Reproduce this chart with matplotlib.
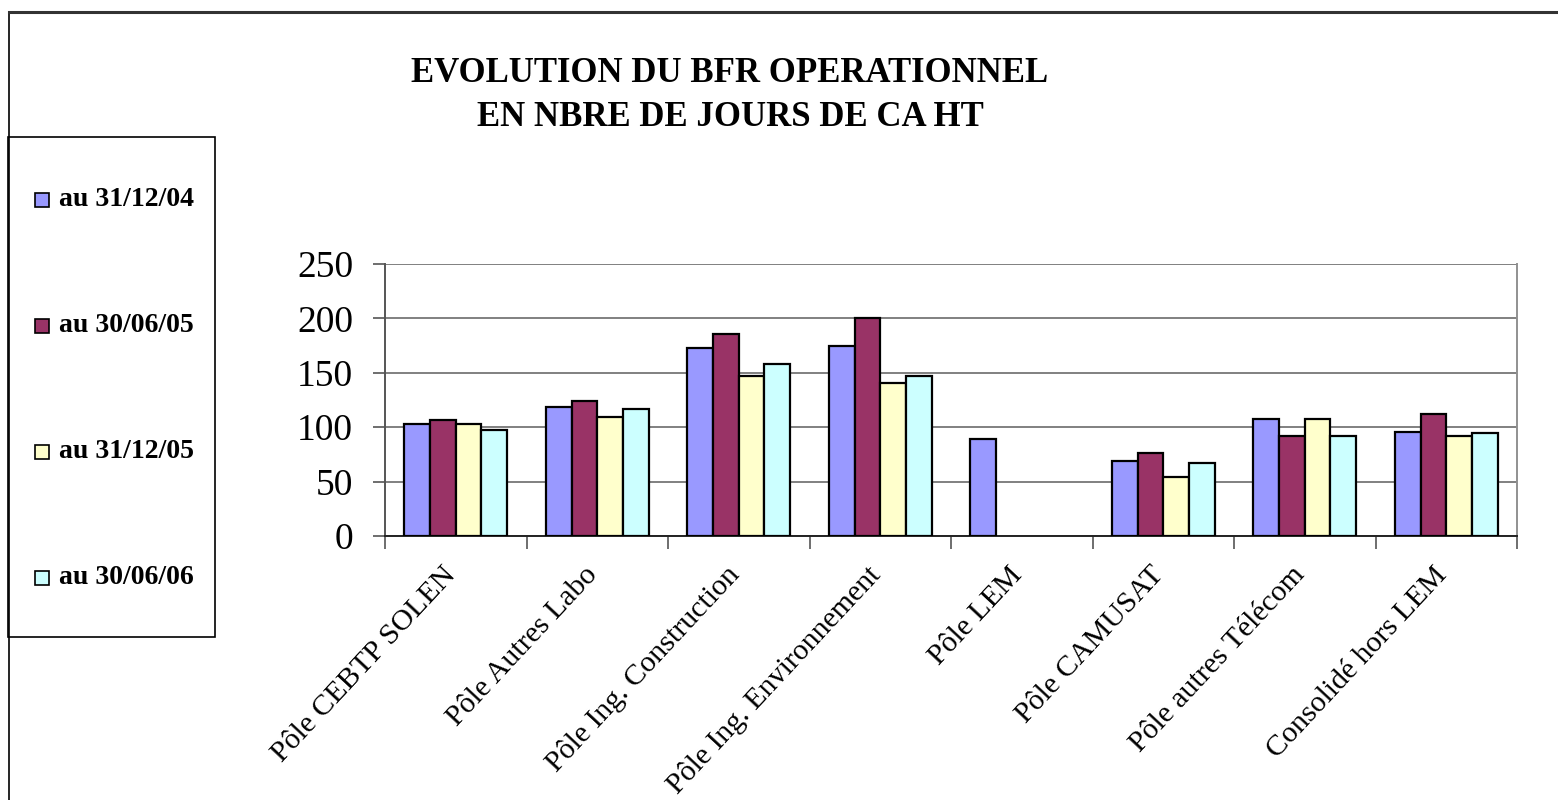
import matplotlib
matplotlib.use("Agg")
import matplotlib.pyplot as plt
import matplotlib.transforms as mtransforms
import numpy as np
from matplotlib.patches import Rectangle
from matplotlib.lines import Line2D

categories = ["Pôle CEBTP SOLEN", "Pôle Autres Labo", "Pôle Ing. Construction",
              "Pôle Ing. Environnement", "Pôle LEM", "Pôle CAMUSAT",
              "Pôle autres Télécom", "Consolidé hors LEM"]
series_names = ["au 31/12/04", "au 30/06/05", "au 31/12/05", "au 30/06/06"]
s_311204 = [103, 118.5, 173, 174.5, 89.5, 69, 107.5, 96]
s_300605 = [107, 124.5, 186, 200, 0, 76, 91.5, 112.5]
s_311205 = [102.5, 109, 147, 141, 0, 54.5, 107.5, 91.5]
s_300606 = [97.5, 116.5, 158.5, 147, 0, 67.5, 91.5, 94.5]
series = [s_311204, s_300605, s_311205, s_300606]
colors = ["#9999FF", "#993366", "#FFFFCC", "#CCFFFF"]
yticks = [0, 50, 100, 150, 200, 250]

serif = ["Liberation Serif", "DejaVu Serif"]
plt.rcParams["font.family"] = serif

W, H = 1558, 800
fig = plt.figure(figsize=(W / 100, H / 100), dpi=100)

ax = fig.add_axes([385 / W, 1 - 536 / H, (1517 - 385) / W, (536 - 264) / H])

n = len(categories)
x = np.arange(n)
bw = 1 / 5.5
for i, (vals, c) in enumerate(zip(series, colors)):
    offs = (i - 1.5) * bw
    xs = [xi + offs for xi, v in zip(x, vals) if v > 0]
    vs = [v for v in vals if v > 0]
    ax.bar(xs, vs, width=bw, color=c, edgecolor="black", linewidth=1.6,
           zorder=3, label=series_names[i])

ax.set_xlim(-0.5, n - 0.5)
ax.set_ylim(0, 250)
ax.set_yticks(yticks)
ax.set_yticklabels([str(t) for t in yticks], fontsize=27)
ax.tick_params(axis="y", length=9, width=1.2, color="#555555", pad=14, direction="out")
ax.grid(axis="y", color="#808080", linewidth=1.4, zorder=0)

ax.set_xticks(x)
ax.set_xticklabels(categories, fontsize=21.5, rotation=47, ha="right",
                   rotation_mode="anchor", va="center")
ax.tick_params(axis="x", which="major", length=0, pad=25)
shift = mtransforms.ScaledTranslation(-4 / 100, 0, fig.dpi_scale_trans)
for lab in ax.get_xticklabels():
    lab.set_transform(lab.get_transform() + shift)
ax.set_xticks(np.arange(-0.5, n, 1.0), minor=True)
ax.tick_params(axis="x", which="minor", length=9, width=1.2, color="#555555")

ax.spines["top"].set_visible(False)
ax.spines["right"].set_color("#909090")
ax.spines["right"].set_linewidth(1.4)
ax.spines["left"].set_color("#555555")
ax.spines["left"].set_linewidth(1.4)
ax.spines["bottom"].set_color("#222222")
ax.spines["bottom"].set_linewidth(1.4)

fig.text(730 / W, 1 - 73 / H, "EVOLUTION DU BFR OPERATIONNEL", ha="center",
         va="center", fontsize=25, fontweight="bold", family=serif)
fig.text(730 / W, 1 - 118 / H, "EN NBRE DE JOURS DE CA HT", ha="center",
         va="center", fontsize=25, fontweight="bold", family=serif)

# outer frame
fig.add_artist(Line2D([9 / W, 9 / W], [0, 1 - 12 / H], transform=fig.transFigure,
                      color="black", linewidth=1.2))
fig.add_artist(Line2D([9 / W, 1], [1 - 12 / H, 1 - 12 / H], transform=fig.transFigure,
                      color="#333333", linewidth=2.2))

# legend box
fig.add_artist(Rectangle((8 / W, 1 - 637 / H), (215 - 8) / W, (637 - 137) / H,
                         transform=fig.transFigure, facecolor="white",
                         edgecolor="black", linewidth=1.2))
ly = [200, 326, 452, 578]
for yy, name, c in zip(ly, series_names, colors):
    fig.add_artist(Rectangle((35 / W, 1 - (yy + 7) / H), 14 / W, 14 / H,
                             transform=fig.transFigure, facecolor=c,
                             edgecolor="black", linewidth=1.2))
    fig.text(59 / W, 1 - yy / H, name, ha="left", va="center", fontsize=20,
             fontweight="bold", family=serif)

fig.savefig("out.png", dpi=100)
